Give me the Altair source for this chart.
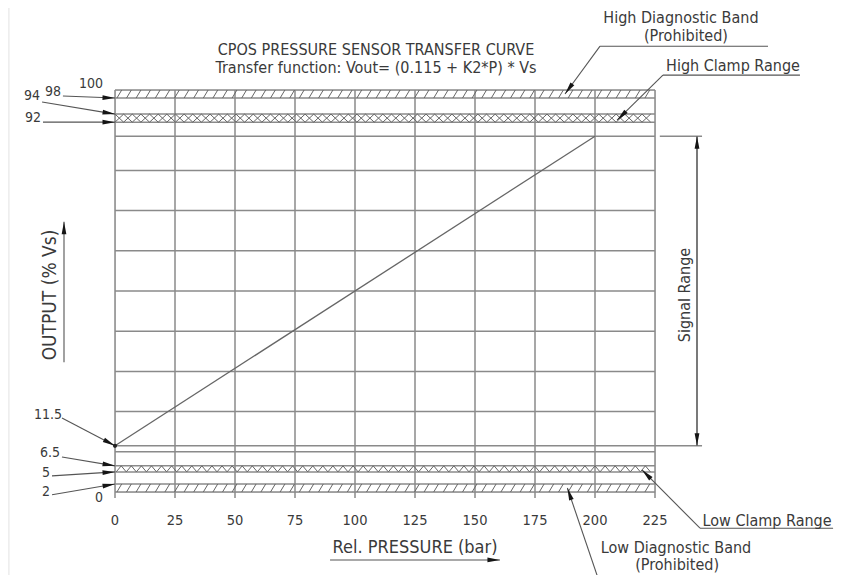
import math
import altair as alt
import pandas as pd

# ---------------- data ----------------
pressure_ticks = [0, 25, 50, 75, 100, 125, 150, 175, 200, 225]
curve_pressure = [0, 200]
curve_output = [11.5, 88.5]
grid_levels = [0, 2, 5, 6.5, 10, 20, 30, 40, 50, 60, 70, 80, 88.5, 92, 94, 98, 100]
signal_low, signal_high = 11.5, 88.5

# left-side value callouts: label, label pos (bar, %)
callout_labels = ["100", "98", "94", "92", "11.5", "6.5", "5", "2", "0"]
callout_lx = [-10, -25.8, -34.6, -34.2, -27.9, -27.1, -28.75, -28.75, -6.7]
callout_ly = [101.5, 99.5, 98.5, 93.0, 19.2, 9.7, 4.7, 0.0, -1.5]

# leader arrows: tail and tip (bar, %)
arrow_tail_x = [-21.7, -30.4, -30.0, -22.1, -22.1, -26.25, -26.25, 202.1, 228.3, 243.75, 201.25, -21.25, 89.6, 242.5, 242.5]
arrow_tail_y = [98.5, 97.0, 92.0, 18.4, 8.7, 4.0, -0.7, 110.9, 103.7, -9.0, -21.4, 32.3, -16.9, 50, 50]
arrow_tip_x = [0, 0, 0, 0, 0, 0, 0, 187.5, 209.2, 219.6, 188.5, -21.25, 160.4, 242.5, 242.5]
arrow_tip_y = [98, 94, 92, 11.5, 6.5, 5, 2, 99, 92.5, 5.5, 1, 67.2, -16.9, 88.5, 11.5]

# underlines of the annotation texts
under_x = [202.1, 228.3, 243.75]
under_x2 = [272.1, 285.4, 299.2]
under_y = [110.9, 103.7, -9.0]

texts = ["CPOS PRESSURE SENSOR TRANSFER CURVE",
         "Transfer function: Vout= (0.115 + K2*P) * Vs",
         "High Diagnostic Band", "(Prohibited)", "High Clamp Range",
         "Low Clamp Range", "Low Diagnostic Band", "(Prohibited)",
         "Rel. PRESSURE (bar)", "OUTPUT (% Vs)", "Signal Range"]
text_x = [108.75, 108.75, 235.8, 237.9, 257.5, 271.7, 233.75, 234.2, 125.0, -27.1, 237.5]
text_y = [109.9, 105.35, 117.9, 113.4, 106.0, -7.2, -13.9, -18.2, -14.0, 49, 49]
text_angle = [0, 0, 0, 0, 0, 0, 0, 0, 0, 270, 270]
text_size = [16, 16, 16, 16, 16, 16, 16, 16, 18, 19, 16]

# ---------------- layout ----------------
W, H = 540, 402
PXB = W / 225
PXP = H / 100
FONT = "DejaVu Sans Condensed, Liberation Sans Narrow, DejaVu Sans"
TEXT = "#3a3a3a"
GRID = "#8a8a8a"

xs = alt.Scale(domain=[0, 225], nice=False, zero=False)
ys = alt.Scale(domain=[0, 100], nice=False, zero=False)

# grid segments
seg = []
for p in pressure_ticks:
    seg.append(dict(x=p, x2=p, y=-1.5, y2=100))
for g in grid_levels:
    seg.append(dict(x=0, x2=225, y=g, y2=g))
seg.append(dict(x=0, x2=244.6, y=signal_low, y2=signal_low))
seg.append(dict(x=227, x2=244.6, y=signal_high, y2=signal_high))
seg.append(dict(x=242.5, x2=242.5, y=signal_low, y2=signal_high))
grid_df = pd.DataFrame(seg)

# hatch patterns (fill decoration)
hatch = []
for i in range(56):
    x0 = 0.8 + i * 4.0
    if x0 + 2.0 <= 225:
        hatch.append(dict(x=x0, x2=x0 + 2.0, y=0, y2=2))
        hatch.append(dict(x=x0, x2=x0 + 2.0, y=98, y2=100))
for i in range(62):
    x0 = i * 3.6
    if x0 + 3.6 <= 225.01:
        hatch.append(dict(x=x0, x2=x0 + 3.6, y=92, y2=94))
        hatch.append(dict(x=x0, x2=x0 + 3.6, y=94, y2=92))
for i in range(53):
    x0 = 0.5 + i * 4.2
    if x0 + 4.2 <= 225:
        hatch.append(dict(x=x0, x2=x0 + 2.1, y=5, y2=6.5))
        hatch.append(dict(x=x0 + 2.1, x2=x0 + 4.2, y=6.5, y2=5))
hatch_df = pd.DataFrame(hatch)

# leader lines + arrowheads
lead_df = pd.DataFrame(dict(x=arrow_tail_x, y=arrow_tail_y, x2=arrow_tip_x, y2=arrow_tip_y))
ang = []
for tx, ty, px, py in zip(arrow_tail_x, arrow_tail_y, arrow_tip_x, arrow_tip_y):
    dx = (px - tx) * PXB
    dy = -(py - ty) * PXP
    ang.append(math.degrees(math.atan2(dy, dx)) % 360)
head_df = pd.DataFrame(dict(x=arrow_tip_x, y=arrow_tip_y, angle=ang))
under_df = pd.DataFrame(dict(x=under_x, x2=under_x2, y=under_y, y2=under_y))

curve_df = pd.DataFrame(dict(x=curve_pressure, y=curve_output))
dot_df = pd.DataFrame(dict(x=curve_pressure[:1], y=curve_output[:1]))

tick_df = pd.DataFrame(dict(label=[str(t) for t in pressure_ticks], x=pressure_ticks,
                            y=[-7.2] * len(pressure_ticks), angle=[0] * len(pressure_ticks),
                            size=[14.5] * len(pressure_ticks)))
callout_df = pd.DataFrame(dict(label=callout_labels, x=callout_lx, y=callout_ly,
                               angle=[0] * len(callout_labels), size=[14] * len(callout_labels)))
text_df = pd.DataFrame(dict(label=texts, x=text_x, y=text_y, angle=text_angle, size=text_size))
all_text = pd.concat([tick_df, callout_df, text_df], ignore_index=True)

frame_df = pd.DataFrame(dict(x=[-44.2], x2=[302.9], y=[121.1], y2=[-25]))

ARROW = "M0,0L-1,-0.19L-1,0.19Z"


def xy_rule(df, **mk):
    return alt.Chart(df).mark_rule(**mk).encode(
        x=alt.X("x:Q", scale=xs, axis=None), x2="x2:Q",
        y=alt.Y("y:Q", scale=ys, axis=None), y2="y2:Q")


frame = alt.Chart(frame_df).mark_rect(filled=False, stroke="#e2e2e2", strokeWidth=1).encode(
    x=alt.X("x:Q", scale=xs, axis=None), x2="x2:Q",
    y=alt.Y("y:Q", scale=ys, axis=None), y2="y2:Q")

grid = xy_rule(grid_df, color=GRID, strokeWidth=1.5)
hatches = xy_rule(hatch_df, color="#666666", strokeWidth=1)
leaders = xy_rule(lead_df, color="#555555", strokeWidth=1.1)
unders = xy_rule(under_df, color="#555555", strokeWidth=1.1)

curve = alt.Chart(curve_df).mark_line(color="#666666", strokeWidth=1.3).encode(
    x=alt.X("x:Q", scale=xs, axis=None), y=alt.Y("y:Q", scale=ys, axis=None))
dot = alt.Chart(dot_df).mark_point(filled=True, color="#222222", size=18, opacity=1).encode(
    x=alt.X("x:Q", scale=xs, axis=None), y=alt.Y("y:Q", scale=ys, axis=None))

heads = alt.Chart(head_df).mark_point(shape=ARROW, filled=True, color="#151515", size=625,
                                      opacity=1, strokeWidth=0).encode(
    x=alt.X("x:Q", scale=xs, axis=None), y=alt.Y("y:Q", scale=ys, axis=None),
    angle=alt.Angle("angle:Q", scale=None))

labels = alt.Chart(all_text).mark_text(font=FONT, color=TEXT, baseline="middle", align="center").encode(
    x=alt.X("x:Q", scale=xs, axis=None), y=alt.Y("y:Q", scale=ys, axis=None),
    text="label:N", angle=alt.Angle("angle:Q", scale=None), size=alt.Size("size:Q", scale=None))

chart = alt.layer(frame, grid, hatches, curve, leaders, unders, heads, dot, labels).properties(
    width=W, height=H,
    autosize=alt.AutoSizeParams(type="none"),
    padding={"left": 107, "top": 82, "right": 183, "bottom": 83},
).configure_view(stroke=None).configure(background="white")

chart.save("out.html", embed_options={"renderer": "svg", "actions": False})
